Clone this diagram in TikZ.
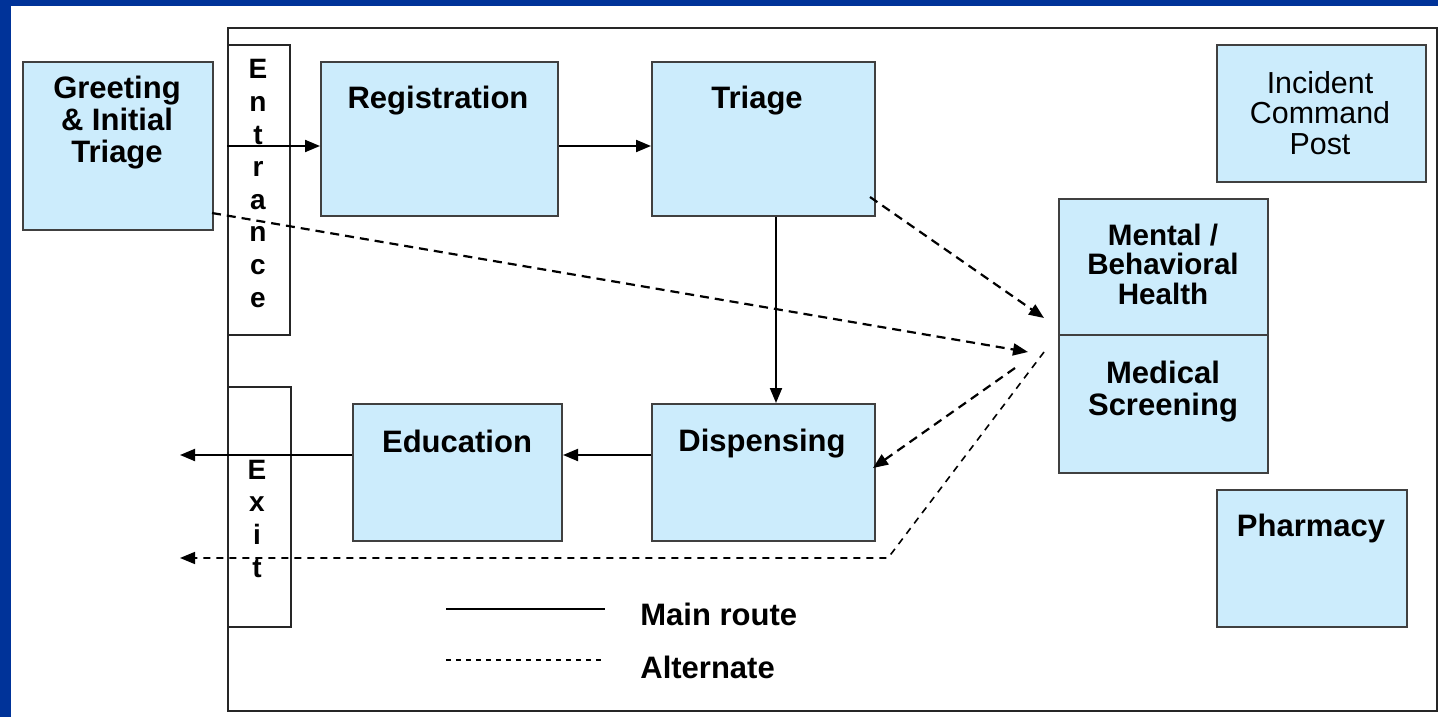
\documentclass[tikz,border=0pt]{standalone}
\usepackage{fontspec}
\setmainfont{Liberation Sans}
\usetikzlibrary{arrows.meta}
\definecolor{frameblue}{RGB}{0,51,153}
\definecolor{boxfill}{RGB}{204,236,252}
\definecolor{boxline}{RGB}{64,64,64}
\begin{document}
\begin{tikzpicture}[x=0.5pt,y=-0.5pt,
  box/.style={draw=boxline,line width=1pt,fill=boxfill,inner sep=0pt,anchor=north west},
  door/.style={draw=black!85,line width=0.8pt,fill=white,inner sep=0pt,anchor=north west},
  lbl/.style={anchor=base,align=center,inner sep=0pt,font=\fontsize{15.5}{15.8}\selectfont\bfseries},
  lblsm/.style={anchor=base,align=center,inner sep=0pt,font=\fontsize{14.8}{14.6}\selectfont\bfseries},
  lblreg/.style={anchor=base,align=center,inner sep=0pt,font=\fontsize{15.2}{15}\selectfont},
  vert/.style={anchor=base,align=center,inner sep=0pt,font=\fontsize{14}{16.3}\selectfont\bfseries},
  main/.style={line width=1pt,-{Triangle[length=7.5pt,width=6pt]}},
  alt/.style={line width=1.1pt,dash pattern=on 4.5pt off 3pt,-{Triangle[length=7.5pt,width=6pt]}},
  altthin/.style={line width=0.8pt,dash pattern=on 3.5pt off 3pt,-{Triangle[length=7.5pt,width=6pt]}},
  legmain/.style={line width=0.7pt},
  legalt/.style={line width=0.7pt,dash pattern=on 2.5pt off 2.5pt}]
% background and border
\useasboundingbox (0,0) rectangle (1438,717);
\fill[frameblue] (0,0) rectangle (1438,717);
\fill[white] (11,6) rectangle (1438,717);
% site frame
\node[draw=black!85,line width=0.9pt,inner sep=0pt,anchor=north west,minimum width=604.5pt,minimum height=341.5pt] (site) at (227,27) {};
% doors
\node[door,minimum width=31pt,minimum height=145pt] (entrance) at (227,44) {};
\node[door,minimum width=31.5pt,minimum height=120pt] (exit) at (227,386) {};
% boxes
\node[box,minimum width=95pt,minimum height=84pt] (greet) at (22,61) {};
\node[box,minimum width=118.5pt,minimum height=77pt] (reg) at (320,61) {};
\node[box,minimum width=111.5pt,minimum height=77pt] (triage) at (651,61) {};
\node[box,minimum width=104.5pt,minimum height=68.5pt] (icp) at (1216,44) {};
\node[box,minimum width=104.5pt,minimum height=68pt] (mental) at (1058,198) {};
\node[box,minimum width=104.5pt,minimum height=69pt] (medical) at (1058,334) {};
\node[box,minimum width=95pt,minimum height=68.5pt] (pharm) at (1216,489) {};
\node[box,minimum width=104.5pt,minimum height=68.5pt] (edu) at (352,403) {};
\node[box,minimum width=111.5pt,minimum height=68.5pt] (disp) at (651,403) {};
% labels (anchor base = baseline of the last line)
\node[lbl] (greett) at (117,162) {Greeting\\\& Initial\\Triage};
\node[lbl] (regt) at (438,109) {Registration};
\node[lbl] (triaget) at (757,108) {Triage};
\node[lblreg] (icpt) at (1320,154) {Incident\\Command\\Post};
\node[lblsm] (mentalt) at (1163,304) {Mental /\\Behavioral\\Health};
\node[lbl] (medicalt) at (1163,415) {Medical\\Screening};
\node[lbl] (pharmt) at (1311,536) {Pharmacy};
\node[lbl] (edut) at (457,452) {Education};
\node[lbl] (dispt) at (762,451) {Dispensing};
\node[vert] (entt) at (258,307) {E\\n\\t\\r\\a\\n\\c\\e};
\node[vert] (exitt) at (257,577) {E\\x\\i\\t};
% coordinates
\coordinate (entin) at (227,146);
\coordinate (tcol) at (776,300);
\coordinate (eduy) at (600,455);
\coordinate (exitout) at (180,455);
\coordinate (altout) at (180,558);
\coordinate (bend) at (888,558);
\coordinate (hubA) at (1044,318);
\coordinate (hubB) at (1028,352);
\coordinate (hubC) at (1015,368);
\coordinate (hubD) at (1044,352);
\coordinate (trout) at (870,197);
\coordinate (grout) at (212,213);
\coordinate (dispin) at (873,468);
% main route
\draw[main] (entin) -- (entin -| reg.west);
\draw[main] (reg.east |- entin) -- (triage.west |- entin);
\draw[main] (triage.south -| tcol) -- (disp.north -| tcol);
\draw[main] (disp.west |- eduy) -- (edu.east |- eduy);
\draw[main] (edu.west |- eduy) -- (exitout);
% alternate routes
\draw[alt] (trout) -- (hubA);
\draw[alt] (grout) -- (hubB);
\draw[alt] (hubC) -- (dispin);
\draw[altthin] (hubD) -- (bend) -- (altout);
% legend
\coordinate (lm1) at (446,609);
\coordinate (lm2) at (605,609);
\coordinate (la1) at (446,660);
\coordinate (la2) at (605,660);
\draw[legmain] (lm1) -- (lm2);
\draw[legalt] (la1) -- (la2);
\node[lbl,anchor=base west] (legm) at (640,625) {Main route};
\node[lbl,anchor=base west] (lega) at (640,678) {Alternate};
\end{tikzpicture}
\end{document}
